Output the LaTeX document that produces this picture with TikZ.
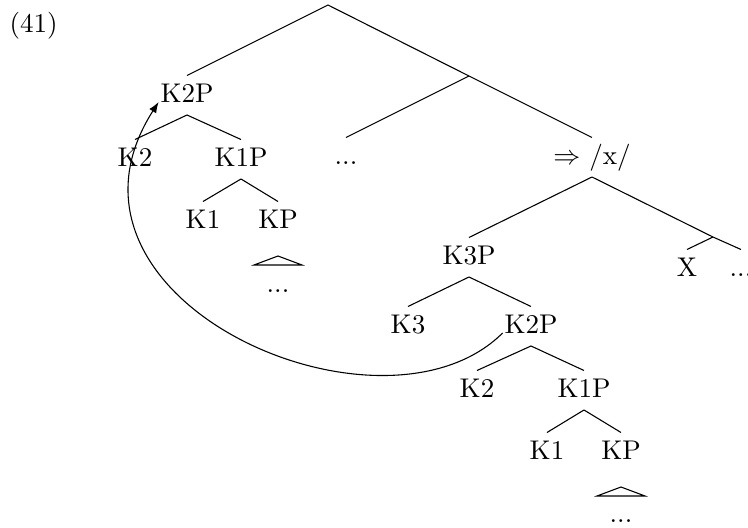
\documentclass[tikz,border=0pt]{standalone}
\usepackage{amsmath}
\usepackage{tikz}
\usetikzlibrary{arrows.meta,positioning,calc}
\newcommand{\kroof}[1]{\draw[branch] ($(#1.south)+(0,15)$) -- ++(24,9) -- ++(-48,0) -- cycle;}

\begin{document}
\begin{tikzpicture}[
  x=0.3697pt, y=-0.3697pt,
  lab/.style={anchor=base,inner xsep=0.5pt,inner ysep=0pt,text height=9.6pt,text depth=4.6pt},
  branch/.style={draw=black,line width=0.4pt},
  arrow/.style={-{Latex[length=4pt,width=3pt]},draw=black,line width=0.4pt}
]
\useasboundingbox (0,0) rectangle (748,527);
\node[anchor=base west,inner sep=0pt] (exnum) at (9,32) {(41)};
\coordinate (root) at (328,5);
\coordinate (mid) at (469,76);
\node[lab] (k2pa) at (187,102) {K2P};
\node[lab] (k2a) at (135,166) {K2};
\node[lab] (k1pa) at (241,166) {K1P};
\node[lab] (k1a) at (203,228) {K1};
\node[lab] (kpa) at (278,228) {KP};
\node[lab] (dotsb) at (278,292) {...};
\node[lab] (dotsa) at (346,164) {...};
\node[lab] (xnode) at (592,164) {$\Rightarrow$ /x/};
\node[lab] (k3p) at (469,264) {K3P};
\coordinate (xr) at (713,237);
\node[lab] (xx) at (687,276) {X};
\node[lab] (dotsc) at (741,276) {...};
\node[lab] (k3) at (408,333) {K3};
\node[lab] (k2pb) at (531,333) {K2P};
\node[lab] (k2b) at (477,397) {K2};
\node[lab] (k1pb) at (584,397) {K1P};
\node[lab] (k1b) at (547,459) {K1};
\node[lab] (kpb) at (621,459) {KP};
\node[lab] (dotsd) at (621,522) {...};

\draw[branch] (k2pa.north) -- (root) -- (mid) -- (xnode.north);
\draw[branch] (mid) -- (dotsa.north);
\draw[branch] (k2pa.south) -- (k2a.north);
\draw[branch] (k2pa.south) -- (k1pa.north);
\draw[branch] (k1pa.south) -- (k1a.north);
\draw[branch] (k1pa.south) -- (kpa.north);
\draw[branch] (xnode.south) -- (k3p.north);
\draw[branch] (xnode.south) -- (xr);
\draw[branch] (xr) -- (xx.north);
\draw[branch] (xr) -- (dotsc.north);
\draw[branch] (k3p.south) -- (k3.north);
\draw[branch] (k3p.south) -- (k2pb.north);
\draw[branch] (k2pb.south) -- (k2b.north);
\draw[branch] (k2pb.south) -- (k1pb.north);
\draw[branch] (k1pb.south) -- (k1b.north);
\draw[branch] (k1pb.south) -- (kpb.north);
\kroof{kpa}
\kroof{kpb}
\draw[arrow] (k2pb.base west) .. controls (382,453) and (32,300) .. (k2pa.base west);
\end{tikzpicture}
\end{document}
